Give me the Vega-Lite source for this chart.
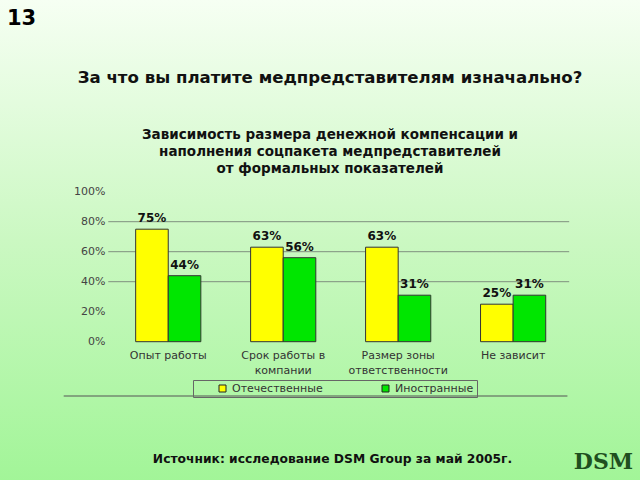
{
  "$schema": "https://vega.github.io/schema/vega-lite/v6.json",
  "width": 640,
  "height": 480,
  "autosize": {"type": "none"},
  "padding": 0,
  "background": "#cbf8c2",
  "config": {
    "font": "DejaVu Sans",
    "view": {
      "stroke": null,
      "fill": {"gradient": "linear", "x1": 0, "y1": 0, "x2": 0, "y2": 1,
        "stops": [
          {"offset": 0, "color": "#f6fff3"},
          {"offset": 0.5, "color": "#cbf8c2"},
          {"offset": 1, "color": "#a2f598"}
        ]}
    }
  },
  "title": {
    "text": "За что вы платите медпредставителям изначально?",
    "subtitle": ["Зависимость размера денежной компенсации и", "наполнения соцпакета медпредставителей", "от формальных показателей"],
    "anchor": "middle",
    "fontSize": 16.6,
    "fontWeight": "bold",
    "color": "#111111",
    "subtitleFontSize": 13.5,
    "subtitleFontWeight": "bold",
    "subtitleColor": "#111111",
    "subtitlePadding": 41,
    "subtitleLineHeight": 17,
    "dx": 10,
    "dy": 179
  },
  "datasets": {
    "bars": [
      {"cat": "Опыт работы", "series": "Отечественные", "value": 0.75},
      {"cat": "Опыт работы", "series": "Иностранные", "value": 0.44},
      {"cat": "Срок работы в компании", "series": "Отечественные", "value": 0.63},
      {"cat": "Срок работы в компании", "series": "Иностранные", "value": 0.56},
      {"cat": "Размер зоны ответственности", "series": "Отечественные", "value": 0.63},
      {"cat": "Размер зоны ответственности", "series": "Иностранные", "value": 0.31},
      {"cat": "Не зависит", "series": "Отечественные", "value": 0.25},
      {"cat": "Не зависит", "series": "Иностранные", "value": 0.31}
    ],
    "grid": [{"v": 0.4}, {"v": 0.6}, {"v": 0.8}]
  },
  "layer": [
    {
      "data": {"name": "grid"},
      "mark": {"type": "rule", "color": "#7f8f7f", "strokeWidth": 1},
      "encoding": {
        "x": {"datum": "Опыт работы", "bandPosition": -0.42},
        "x2": {"datum": "Не зависит", "bandPosition": 1.36},
        "y": {"field": "v", "type": "quantitative",
          "scale": {"domain": [-0.922, 2.278], "nice": false, "zero": false},
          "axis": {"orient": "right", "labels": false, "ticks": false, "domain": false, "grid": false,
            "title": "DSM", "titleX": -37, "titleY": 461, "titleAngle": 0, "titleFontSize": 22,
            "titleFont": "DejaVu Serif", "titleFontWeight": "bold", "titleColor": "#1f4f1f",
            "titleAlign": "center", "titleBaseline": "middle"}}
      }
    },
    {
      "data": {"name": "bars"},
      "mark": {"type": "bar", "stroke": "#333333", "strokeWidth": 1},
      "encoding": {
        "x": {"field": "cat", "type": "nominal",
          "scale": {"domain": ["Опыт работы", "Срок работы в компании", "Размер зоны ответственности", "Не зависит"],
            "paddingInner": 0.433, "paddingOuter": 1.0385, "align": 0.59},
          "axis": {"orient": "bottom", "offset": -139, "domain": false, "ticks": false, "tickSize": 0,
            "labelAngle": 0, "labelAlign": "center", "labelBaseline": "top",
            "labelFontSize": 11, "labelColor": "#333333",
            "labelPadding": 8, "labelLineHeight": 15, "labelOverlap": false, "labelFlush": false, "labelLimit": 200,
            "labelExpr": "datum.value == 'Срок работы в компании' ? ['Срок работы в', 'компании'] : datum.value == 'Размер зоны ответственности' ? ['Размер зоны', 'ответственности'] : datum.value",
            "title": "Источник: исследование DSM Group за май 2005г.",
            "titleX": 332, "titleY": 117, "titleAlign": "center", "titleBaseline": "middle",
            "titleFontSize": 12.3, "titleFontWeight": "bold", "titleColor": "#111111"}},
        "xOffset": {"field": "series", "type": "nominal", "sort": ["Отечественные", "Иностранные"]},
        "y": {"field": "value", "type": "quantitative",
          "scale": {"domain": [-0.922, 2.278], "nice": false, "zero": false},
          "axis": {"orient": "left", "offset": -112, "values": [0, 0.2, 0.4, 0.6, 0.8, 1], "format": ".0%",
            "domain": false, "ticks": false, "tickSize": 0, "grid": false, "labelFontSize": 11,
            "labelColor": "#444444", "labelPadding": 7,
            "title": "13", "titleX": -91, "titleY": 18, "titleAngle": 0, "titleFontSize": 21,
            "titleFontWeight": "bold", "titleColor": "#000000", "titleAlign": "center", "titleBaseline": "middle"}},
        "color": {"field": "series", "type": "nominal",
          "scale": {"domain": ["Отечественные", "Иностранные"], "range": ["#ffff00", "#00e600"]},
          "legend": {"orient": "none", "legendX": 193, "legendY": 380, "direction": "horizontal", "title": null,
            "symbolType": "square", "symbolSize": 49, "symbolStrokeColor": "#222222", "symbolStrokeWidth": 1,
            "symbolOffset": 21,
            "labelFontSize": 11, "labelColor": "#333333", "columnPadding": 36, "padding": 3,
            "strokeColor": "#666666"}}
      }
    },
    {
      "data": {"name": "bars"},
      "mark": {"type": "text", "fontWeight": "bold", "fontSize": 12, "baseline": "bottom", "dy": -4, "color": "#111111"},
      "encoding": {
        "x": {"field": "cat", "type": "nominal"},
        "xOffset": {"field": "series", "type": "nominal", "sort": ["Отечественные", "Иностранные"]},
        "y": {"field": "value", "type": "quantitative", "axis": null},
        "text": {"field": "value", "type": "quantitative", "format": ".0%"}
      }
    },
    {
      "data": {"values": [{"f": 1}]},
      "mark": {"type": "rule", "color": "#555555", "strokeWidth": 1},
      "encoding": {
        "x": {"datum": "Опыт работы", "bandPosition": -1.104},
        "x2": {"datum": "Не зависит", "bandPosition": 1.333},
        "y": {"datum": -0.362, "type": "quantitative", "axis": null}
      }
    }
  ],
  "resolve": {"axis": {"y": "independent"}}
}
